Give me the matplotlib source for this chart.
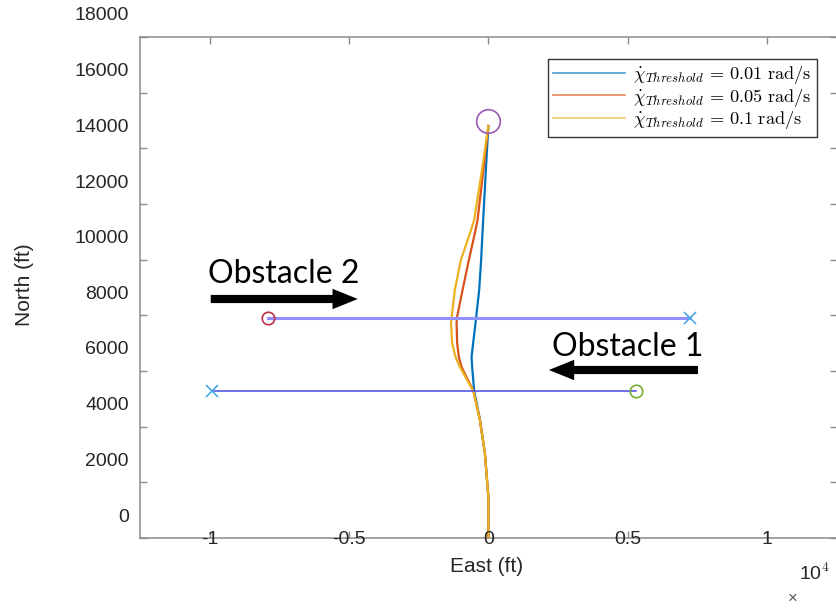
import matplotlib
matplotlib.use("Agg")
import matplotlib.pyplot as plt
from matplotlib.transforms import ScaledTranslation

# ---------------- data ----------------
north_ft = [0, 1473, 3054, 4240, 5282, 6144, 6503, 7006, 7725, 7905, 8911, 9989, 10887, 11426, 13222, 14803]
east_001 = [0, 0, -126, -300, -510, -582, -603, -546, -460, -442, -330, -260, -215, -187, -90, 0]
east_005 = [0, 0, -126, -305, -539, -962, -1060, -1120, -1142, -1130, -926, -700, -500, -388, -180, 0]
east_01 = [0, 0, -126, -305, -539, -1023, -1180, -1300, -1340, -1321, -1203, -987, -680, -510, -230, 0]
series_labels = [r"$\dot{\chi}_{Threshold}\,=\,0.01\ \mathrm{rad/s}$",
                 r"$\dot{\chi}_{Threshold}\,=\,0.05\ \mathrm{rad/s}$",
                 r"$\dot{\chi}_{Threshold}\,=\,0.1\ \mathrm{rad/s}$"]
series_colors = ["#0072BD", "#D95319", "#EDB120"]

# obstacles: start (circle) and end (x) positions
obs1_east = [-9900, 5300]
obs1_north = [5280, 5280]
obs2_east = [-7900, 7230]
obs2_north = [7900, 7900]
goal_east = [0]
goal_north = [14980]

xticks = [-10000, -5000, 0, 5000, 10000]
xtick_labels = ["-1", "-0.5", "0", "0.5", "1"]
yticks = [0, 2000, 4000, 6000, 8000, 10000, 12000, 14000, 16000, 18000]
ytick_labels = [str(v) for v in yticks]

# ---------------- figure ----------------
plt.rcParams["mathtext.fontset"] = "cm"
plt.rcParams["font.family"] = ["Liberation Sans", "DejaVu Sans"]

fig = plt.figure(figsize=(8.36, 6.09), dpi=100)
ax = fig.add_axes([140 / 836, 71 / 609, 696.75 / 836, 501 / 609])
ax.set_xlim(-12500, 12500)
ax.set_ylim(0, 18000)

gray = "#8a8a8a"
txt = "#262626"

lines = []
for e, lab, c in zip([east_001, east_005, east_01], series_labels, series_colors):
    ln, = ax.plot(e, north_ft, color=c, lw=1.6, label=lab, zorder=3)
    lines.append(ln)

# obstacle tracks
ax.plot(obs2_east, obs2_north, color="#9090ff", lw=2.2, zorder=4)
ax.plot(obs1_east, obs1_north, color="#4848e6", lw=1.1, zorder=4)
ax.plot([obs2_east[0]], [obs2_north[0]], "o", mfc="none", mec="#C0304A", ms=9, mew=1.2, zorder=5)
ax.plot([obs2_east[1]], [obs2_north[1]], "x", color="#4DA8E8", ms=9, mew=1.2, zorder=5)
ax.plot([obs1_east[0]], [obs1_north[0]], "x", color="#4DA8E8", ms=9, mew=1.2, zorder=5)
ax.plot([obs1_east[1]], [obs1_north[1]], "o", mfc="none", mec="#77AC30", ms=9, mew=1.2, zorder=5)
ax.plot(goal_east, goal_north, "o", mfc="none", mec="#9B59B6", ms=17, mew=1.2, zorder=5)

# annotations
afont = dict(family=["Lato", "DejaVu Sans"], fontsize=23, color="black")
arrow_style = "simple,head_length=1.3,head_width=1.05,tail_width=0.42"
ax.text(-10070, 9480, "Obstacle 2", ha="left", va="center", **afont)
ax.annotate("", xy=(-4685, 8587), xytext=(-9962, 8587),
            arrowprops=dict(arrowstyle=arrow_style, mutation_scale=14, lw=0, fc="black", ec="black",
                            shrinkA=0, shrinkB=0))
ax.text(2280, 6880, "Obstacle 1", ha="left", va="center", **afont)
ax.annotate("", xy=(2172, 6036), xytext=(7521, 6036),
            arrowprops=dict(arrowstyle=arrow_style, mutation_scale=14, lw=0, fc="black", ec="black",
                            shrinkA=0, shrinkB=0))

# axes styling (MATLAB-like)
for s in ax.spines.values():
    s.set_color(gray)
    s.set_linewidth(1.1)
ax.set_xticks(xticks)
ax.set_yticks(yticks)
ax.set_xticklabels([])
ax.set_yticklabels([])
ax.tick_params(direction="in", length=5, width=1.0, color=gray,
               top=True, right=True, bottom=True, left=True)

# shifted tick labels as in the reference
ylab_tr = ax.get_yaxis_transform() + ScaledTranslation(-11 / 100, 21 / 100, fig.dpi_scale_trans)
for v, lab in zip(yticks, ytick_labels):
    ax.text(0, v, lab, transform=ylab_tr, ha="right", va="center", fontsize=14, color=txt, clip_on=False)
xlab_tr = ax.get_xaxis_transform() + ScaledTranslation(0, -1 / 100, fig.dpi_scale_trans)
for v, lab in zip(xticks, xtick_labels):
    ax.text(v, 0, lab, transform=xlab_tr, ha="center", va="center", fontsize=14, color=txt, clip_on=False)

fig.text(487 / 836, 1 - 567 / 609, "East (ft)", ha="center", va="center", fontsize=15, color=txt)
fig.text(25 / 836, 1 - 285 / 609, "North (ft)", ha="center", va="center", fontsize=15, color=txt, rotation=90)
fig.text(815 / 836, 1 - 573 / 609, r"10$^{4}$", ha="center", va="center", fontsize=14, color=txt)
fig.text(793 / 836, 1 - 598 / 609, "×", ha="center", va="center", fontsize=12, color="#555555")

leg = ax.legend(handles=lines, loc="upper right", bbox_to_anchor=((817 - 140) / 696.75, (538 - 59) / 501),
                borderaxespad=0, fontsize=13.2, frameon=True, fancybox=False, framealpha=1,
                handlelength=3.9, handletextpad=0.45, labelspacing=0.02, borderpad=0.3)
leg.get_frame().set_edgecolor("#333333")
leg.get_frame().set_linewidth(1.0)
for lh in leg.get_lines():
    lh.set_linewidth(1.2)
    lh.set_alpha(0.7)

fig.savefig("out.png", dpi=100)
